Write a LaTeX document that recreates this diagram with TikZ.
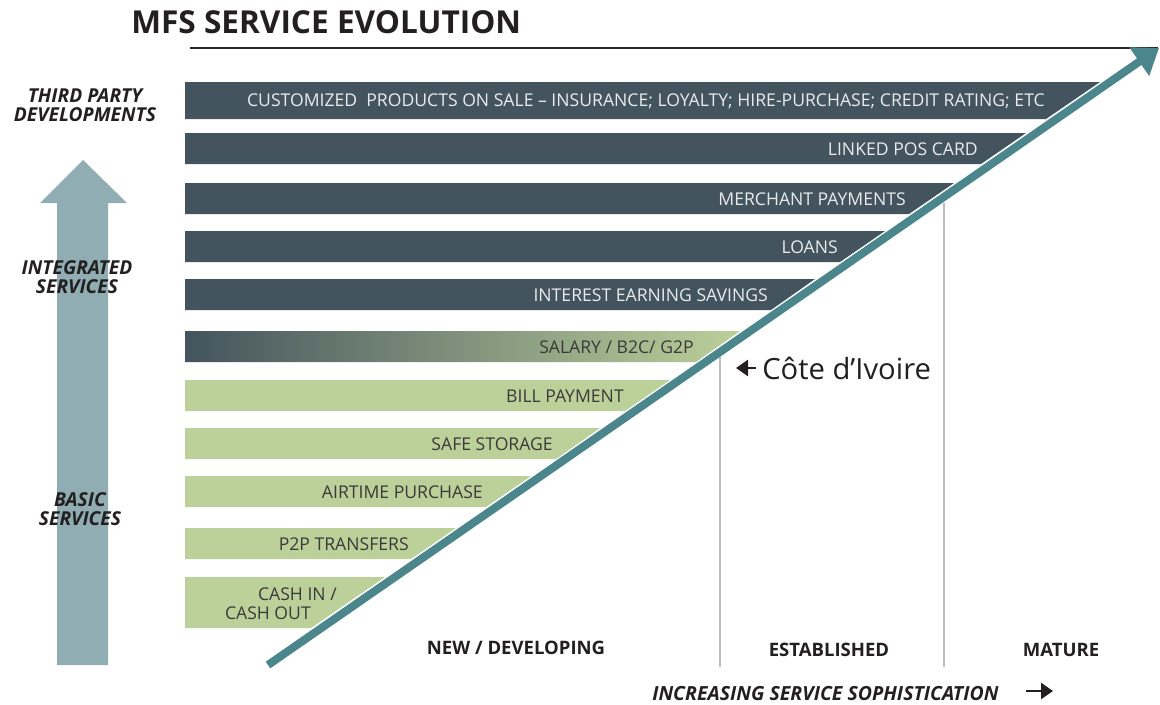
\documentclass[tikz,border=0pt]{standalone}
\usepackage{fontspec}
\setmainfont{Open Sans}
\usetikzlibrary{arrows.meta}
\definecolor{darkbar}{HTML}{44545E}
\definecolor{greenbar}{HTML}{BCD09A}
\definecolor{teal}{HTML}{4B868D}
\definecolor{sidearrow}{HTML}{8FADB2}
\definecolor{sepgray}{HTML}{BDBDBD}
\definecolor{lighttxt}{HTML}{E8EBED}
\definecolor{darktxt}{HTML}{3A3A3A}
\definecolor{labtxt}{HTML}{231F20}
\tikzset{
  dbar/.style={fill=darkbar},
  gbar/.style={fill=greenbar},
  dtext/.style={anchor=east,inner sep=0pt,text=lighttxt,font=\fontsize{13.2}{15}\selectfont},
  gtext/.style={anchor=east,inner sep=0pt,text=darktxt,font=\fontsize{13.2}{15}\selectfont},
  sidelab/.style={align=center,inner sep=0pt,text=labtxt,font=\fontsize{14.4}{14}\selectfont\bfseries\itshape},
  botlab/.style={inner sep=0pt,text=labtxt,font=\fontsize{13.9}{15}\selectfont\bfseries},
  sepline/.style={draw=sepgray,line width=1.5pt},
  smallarrow/.style={labtxt,line width=1.9pt,-{Triangle[length=9pt,width=12pt]}},
}
\begin{document}
\begin{tikzpicture}[x=0.75pt,y=-0.75pt]
\useasboundingbox (0,0) rectangle (1160,704);
% title
\node[anchor=west,inner sep=0pt,text=labtxt,font=\fontsize{23.7}{26}\selectfont\bfseries] (title) at (131,22) {MFS SERVICE EVOLUTION};
\coordinate (ulA) at (190,48);
\coordinate (ulB) at (1158,48);
\draw[line width=1.6pt,black!85] (ulA) -- (ulB);
% left big arrow
\fill[sidearrow] (57,665) -- (57,203) -- (40,203) -- (83,160) -- (127,203) -- (108,203) -- (108,665) -- cycle;
% side labels
\node[sidelab] (tp) at (85,105) {THIRD PARTY\\DEVELOPMENTS};
\node[sidelab] (is) at (77,277) {INTEGRATED\\SERVICES};
\node[sidelab] (bs) at (80,509) {BASIC\\SERVICES};
% separator lines
\coordinate (s1t) at (720,357); \coordinate (s1b) at (720,667);
\coordinate (s2t) at (944,203); \coordinate (s2b) at (944,667);
\draw[sepline] (s1t) -- (s1b);
\draw[sepline] (s2t) -- (s2b);
% bars
\fill[dbar] (185,82) -- (1100,82) -- (1046,119) -- (185,119) -- cycle;
\node[dtext] (b1) at (1045,101) {CUSTOMIZED\ \ PRODUCTS ON SALE -- INSURANCE; LOYALTY; HIRE-PURCHASE; CREDIT RATING; ETC};
\fill[dbar] (185,133) -- (1026,133) -- (981,164) -- (185,164) -- cycle;
\node[dtext] (b2) at (978,149) {LINKED POS CARD};
\fill[dbar] (185,183) -- (954,183) -- (909,214) -- (185,214) -- cycle;
\node[dtext] (b3) at (906,199) {MERCHANT PAYMENTS};
\fill[dbar] (185,231) -- (885,231) -- (840,262) -- (185,262) -- cycle;
\node[dtext] (b4) at (838,247) {LOANS};
\fill[dbar] (185,279) -- (815,279) -- (771,310) -- (185,310) -- cycle;
\node[dtext] (b5) at (768,295) {INTEREST EARNING SAVINGS};
\shade[left color=darkbar,right color=greenbar] (185,331) -- (740,331) -- (696,362) -- (185,362) -- cycle;
\node[gtext] (b6) at (694,347) {SALARY / B2C/ G2P};
\fill[gbar] (185,380) -- (670,380) -- (625,411) -- (185,411) -- cycle;
\node[gtext] (b7) at (624,396) {BILL PAYMENT};
\fill[gbar] (185,428) -- (600,428) -- (556,459) -- (185,459) -- cycle;
\node[gtext] (b8) at (553,444) {SAFE STORAGE};
\fill[gbar] (185,476) -- (531,476) -- (486,507) -- (185,507) -- cycle;
\node[gtext] (b9) at (483,492) {AIRTIME PURCHASE};
\fill[gbar] (185,528) -- (456,528) -- (411,559) -- (185,559) -- cycle;
\node[gtext] (b10) at (409,544) {P2P TRANSFERS};
\fill[gbar] (185,577) -- (385,577) -- (311,628) -- (185,628) -- cycle;
\node[gtext] (b11a) at (337,594) {CASH IN /};
\node[gtext] (b11b) at (311,613) {CASH OUT};
% main diagonal arrow
\coordinate (dA) at (268,665);
\coordinate (dB) at (1159,48);
\draw[teal,line width=6pt,-{Triangle[length=18pt,width=25pt]}] (dA) -- (dB);
% Cote d'Ivoire
\coordinate (ciA) at (756,368);
\coordinate (ciB) at (736,368);
\draw[smallarrow] (ciA) -- (ciB);
\node[anchor=west,inner sep=0pt,text=labtxt,font=\fontsize{21.9}{24}\selectfont] (ci) at (762,368) {Côte d’Ivoire};
% bottom labels
\node[botlab] (nd) at (516,648) {NEW / DEVELOPING};
\node[botlab] (est) at (829,650) {ESTABLISHED};
\node[botlab] (mat) at (1061,650) {MATURE};
\node[anchor=west,inner sep=0pt,text=labtxt,font=\fontsize{14.6}{15}\selectfont\bfseries\itshape] (iss) at (652,694) {INCREASING SERVICE SOPHISTICATION};
\coordinate (raA) at (1026,691);
\coordinate (raB) at (1053,691);
\draw[smallarrow] (raA) -- (raB);
\end{tikzpicture}
\end{document}
